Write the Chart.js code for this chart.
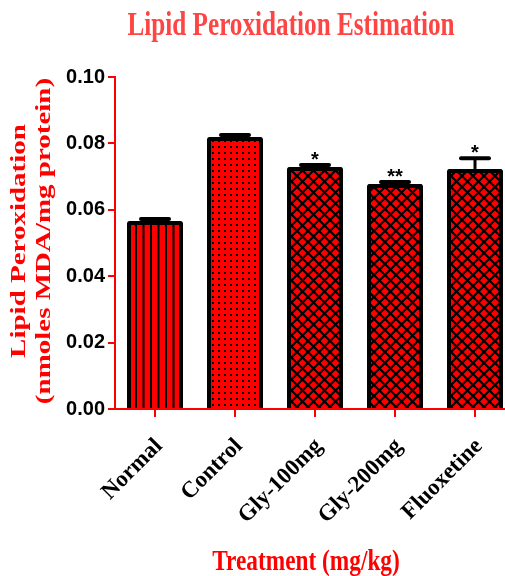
<!DOCTYPE html>
<html>
<head>
<meta charset="utf-8">
<script src="https://cdn.jsdelivr.net/npm/chart.js@4.4.1/dist/chart.umd.min.js"></script>
<style>
  html, body { margin: 0; padding: 0; background: #fff; overflow: hidden; }
  #wrap { width: 505px; height: 576px; overflow: hidden; position: relative; }
  #c { position: absolute; left: 0; top: 0; }
</style>
</head>
<body>
<div id="wrap"><canvas id="c" width="515" height="576"></canvas></div>
<script>
// ---- data ----
const categories = ['Normal', 'Control', 'Gly-100mg', 'Gly-200mg', 'Fluoxetine'];
const meanValues = [0.0566, 0.0819, 0.0729, 0.0678, 0.0723];
const errorValues = [0.0006, 0.0006, 0.0006, 0.0006, 0.0032];
const significance = ['', '', '*', '**', '*'];
const chartTitle = 'Lipid Peroxidation Estimation';
const yTitleLines = ['Lipid Peroxidation', '(nmoles MDA/mg protein)'];
const xTitle = 'Treatment (mg/kg)';
const yMin = 0;
const yMax = 0.10;
const yStep = 0.02;

const SERIF = '"Liberation Serif", "Times New Roman", serif';
const SANS = '"Liberation Sans", Arial, sans-serif';

// ---- patterns ----
function makePattern(kind) {
  const p = document.createElement('canvas');
  let ctx;
  if (kind === 'stripes') {
    p.width = 15; p.height = 4;
    ctx = p.getContext('2d');
    ctx.fillStyle = '#ff0000'; ctx.fillRect(0, 0, p.width, p.height);
    ctx.fillStyle = '#000';
    ctx.fillRect(0, 0, 2, 4);
    ctx.fillRect(7.5, 0, 2, 4);
  } else if (kind === 'dots') {
    p.width = 6; p.height = 6;
    ctx = p.getContext('2d');
    ctx.fillStyle = '#ff0000'; ctx.fillRect(0, 0, 6, 6);
    ctx.fillStyle = '#000';
    ctx.fillRect(2, 2, 2, 2);
  } else {
    p.width = 11; p.height = 11;
    ctx = p.getContext('2d');
    ctx.fillStyle = '#ff0000'; ctx.fillRect(0, 0, 11, 11);
    ctx.strokeStyle = '#000'; ctx.lineWidth = 2.2;
    ctx.beginPath();
    ctx.moveTo(-1, -1); ctx.lineTo(12, 12);
    ctx.moveTo(12, -1); ctx.lineTo(-1, 12);
    ctx.stroke();
  }
  return document.getElementById('c').getContext('2d').createPattern(p, 'repeat');
}
const fills = [makePattern('stripes'), makePattern('dots'), makePattern('hatch'), makePattern('hatch'), makePattern('hatch')];

// ---- error bars, stars & titles plugin ----
const decorPlugin = {
  id: 'decor',
  afterDatasetsDraw(chart) {
    const ctx = chart.ctx;
    const meta = chart.getDatasetMeta(0);
    const yScale = chart.scales.y;
    ctx.save();
    // redraw x axis line above bars
    ctx.strokeStyle = '#ff0000'; ctx.lineWidth = 2;
    ctx.beginPath();
    ctx.moveTo(chart.chartArea.left - 1, yScale.getPixelForValue(0));
    ctx.lineTo(chart.chartArea.right, yScale.getPixelForValue(0));
    ctx.stroke();
    meta.data.forEach((bar, i) => {
      const x = bar.x;
      const yTop = yScale.getPixelForValue(meanValues[i]);
      const yErr = yScale.getPixelForValue(meanValues[i] + errorValues[i]);
      ctx.strokeStyle = '#000';
      ctx.lineWidth = 3;
      ctx.beginPath();
      ctx.moveTo(x, yTop);
      ctx.lineTo(x, yErr);
      ctx.stroke();
      ctx.lineWidth = 4;
      ctx.lineCap = 'round';
      ctx.beginPath();
      ctx.moveTo(x - 14, yErr);
      ctx.lineTo(x + 14, yErr);
      ctx.stroke();
      ctx.lineCap = 'butt';
      if (significance[i]) {
        ctx.fillStyle = '#000';
        ctx.font = 'bold 20px ' + SANS;
        ctx.textAlign = 'center';
        ctx.textBaseline = 'alphabetic';
        ctx.fillText(significance[i], x, yErr + 1);
      }
    });
    ctx.restore();
  },
  afterDraw(chart) {
    const ctx = chart.ctx;
    const area = chart.chartArea;
    ctx.save();
    // main title
    ctx.fillStyle = '#ff4444';
    ctx.font = 'bold 24px ' + SERIF;
    ctx.textAlign = 'center';
    ctx.textBaseline = 'alphabetic';
    ctx.save();
    ctx.translate(291, 35);
    ctx.scale(1.05, 1.4);
    ctx.fillText(chartTitle, 0, 0);
    ctx.restore();
    // x title
    ctx.fillStyle = '#ff0000';
    ctx.font = 'bold 22px ' + SERIF;
    ctx.save();
    ctx.translate(306, 570);
    ctx.scale(1.06, 1.3);
    ctx.fillText(xTitle, 0, 0);
    ctx.restore();
    // y title (two lines)
    const yc = (area.top + area.bottom) / 2 - 2;
    ctx.font = 'bold 21px ' + SERIF;
    const baselines = [25, 50];
    yTitleLines.forEach((line, i) => {
      ctx.save();
      ctx.translate(baselines[i], yc);
      ctx.rotate(-Math.PI / 2);
      ctx.scale(1.38, 1);
      ctx.fillText(line, 0, 0);
      ctx.restore();
    });
    ctx.restore();
  }
};

new Chart(document.getElementById('c'), {
  type: 'bar',
  data: {
    labels: categories,
    datasets: [{
      data: meanValues,
      backgroundColor: fills,
      borderColor: '#000',
      borderWidth: 4,
      borderSkipped: 'start',
      borderRadius: 2,
      categoryPercentage: 1.0,
      barPercentage: 0.7
    }]
  },
  options: {
    responsive: false,
    animation: false,
    devicePixelRatio: 1,
    layout: { padding: { left: 0, right: 0, top: 77, bottom: 0 } },
    plugins: {
      legend: { display: false },
      tooltip: { enabled: false },
      title: { display: false }
    },
    scales: {
      x: {
        offset: true,
        grid: { display: true, drawOnChartArea: false, drawTicks: true, tickLength: 8, color: '#ff0000', lineWidth: 2, offset: false },
        border: { display: true, color: '#ff0000', width: 2 },
        ticks: {
          color: '#000',
          font: { family: SERIF, size: 23, weight: 'bold' },
          minRotation: 45, maxRotation: 45, padding: 16, labelOffset: 4
        },
        title: { display: false },
        afterFit(scale) { scale.height = 167; }
      },
      y: {
        min: yMin, max: yMax,
        grid: { display: true, drawOnChartArea: false, drawTicks: true, tickLength: 7, color: '#ff0000', lineWidth: 2 },
        border: { display: true, color: '#ff0000', width: 2 },
        ticks: {
          stepSize: yStep,
          color: '#000',
          font: { family: SANS, size: 20, weight: 'bold' },
          padding: 3,
          callback: (v) => Number(v).toFixed(2)
        },
        title: { display: false },
        afterFit(scale) { scale.width = 115; }
      }
    }
  },
  plugins: [decorPlugin]
});
</script>
</body>
</html>
